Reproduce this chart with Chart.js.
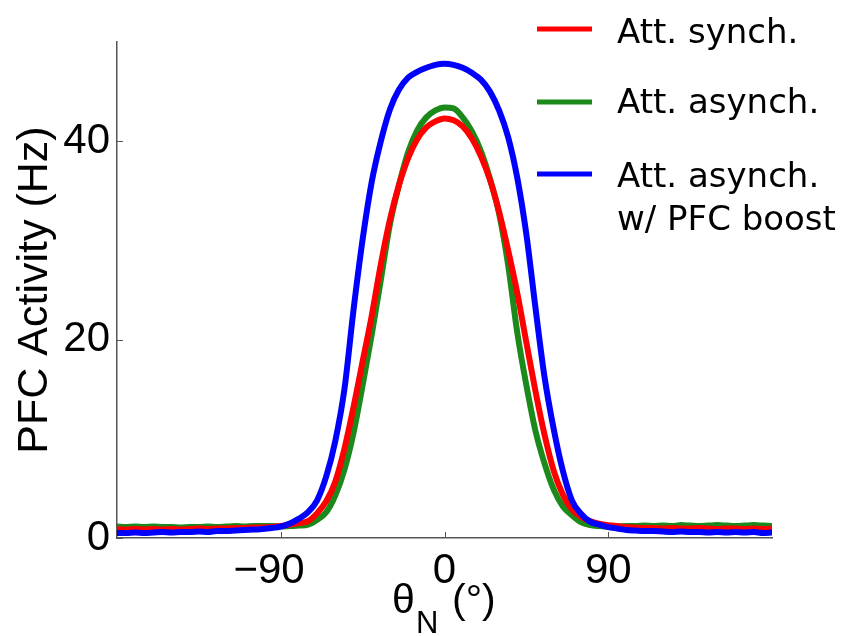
<!DOCTYPE html>
<html>
<head>
<meta charset="utf-8">
<script src="https://cdn.jsdelivr.net/npm/chart.js@4/dist/chart.umd.min.js"></script>
<style>
  html, body { margin: 0; padding: 0; background: #ffffff; }
  #wrap { width: 858px; height: 636px; position: relative; }
</style>
</head>
<body>
<div id="wrap"><canvas id="c" width="858" height="636"></canvas></div>
<script>
// Preferred direction of the neuron, degrees
const angles = [
  -180, -175, -170, -165, -160, -155, -150, -145, -140, -135, -130, -125, -120,
  -115, -110, -105, -100, -95, -90, -85, -80, -75, -70, -65, -60, -55, -50, -45,
  -40, -35, -30, -25, -20, -15, -10, -5, 0, 5, 10, 15, 20, 25, 30, 35, 40, 45,
  50, 55, 60, 65, 70, 75, 80, 85, 90, 95, 100, 105, 110, 115, 120, 125, 130,
  135, 140, 145, 150, 155, 160, 165, 170, 175, 180
];

// PFC firing rate (Hz) for each condition
const attSynch = [
  0.9, 0.85, 0.9, 0.85, 0.9, 0.85, 0.9, 0.85, 0.9, 0.95, 0.9, 0.95, 0.95,
  1.0, 1.0, 1.05, 1.05, 1.1, 1.2, 1.35, 1.5, 1.7, 2.5, 3.7, 5.7, 9.0, 13.2, 17.8,
  22.4, 27.6, 32.1, 35.6, 38.3, 40.2, 41.4, 42.0, 42.3, 42.1, 41.5, 40.3, 38.5, 36.1, 32.9, 29.0, 24.7, 19.7,
  14.8, 10.4, 6.8, 4.4, 2.9, 2.15, 1.7, 1.45, 1.3, 1.2, 1.1, 1.05, 1.0, 1.0, 0.95, 1.0, 0.95,
  0.95, 1.0, 0.95, 0.9, 0.95, 0.95, 0.9, 0.95, 0.9, 0.95
];

const attAsynch = [
  1.15, 1.1, 1.15, 1.1, 1.15, 1.1, 1.1, 1.05, 1.1, 1.1, 1.15, 1.1, 1.15,
  1.2, 1.15, 1.2, 1.2, 1.2, 1.15, 1.2, 1.25, 1.35, 1.85, 2.6, 4.3, 6.9, 10.6, 15.4,
  20.5, 26.0, 31.6, 35.6, 38.9, 41.1, 42.4, 43.1, 43.4, 43.3, 42.4, 41.0, 39.0, 36.2, 32.7, 27.5, 20.7, 15.4,
  10.8, 7.5, 4.9, 3.2, 2.3, 1.6, 1.3, 1.2, 1.15, 1.15, 1.2, 1.2, 1.25, 1.2, 1.25, 1.2,
  1.3, 1.25, 1.2, 1.25, 1.3, 1.25, 1.2, 1.25, 1.3, 1.25, 1.2
];

const attAsynchBoost = [
  0.5, 0.5, 0.55, 0.5, 0.55, 0.6, 0.55, 0.6, 0.6, 0.65, 0.6, 0.7, 0.7,
  0.75, 0.8, 0.85, 0.9, 1.0, 1.15, 1.45, 1.95, 2.6, 3.8, 6.2, 9.8, 15.0, 23.0, 30.1,
  35.9, 40.0, 43.2, 45.2, 46.4, 47.0, 47.4, 47.7, 47.8, 47.7, 47.4, 46.9, 46.2, 45.0, 43.1, 40.4, 36.3, 30.6,
  23.2, 16.2, 11.0, 6.8, 3.8, 2.45, 1.65, 1.35, 1.1, 0.95, 0.8, 0.75, 0.7, 0.7, 0.65, 0.6,
  0.65, 0.6, 0.6, 0.55, 0.6, 0.55, 0.6, 0.55, 0.6, 0.5, 0.55
];

const seriesLabels = [['Att. synch.'], ['Att. asynch.'], ['Att. asynch.', 'w/ PFC boost']];
const seriesColors = ['#ff0000', '#1b8a1b', '#0000ff'];

const xTicks = [-90, 0, 90];
const yTicks = [0, 20, 40];

const axisColor = '#555555';
const tickFont = 'Liberation Sans, Arial, sans-serif';
const legendFont = 'DejaVu Sans, Verdana, sans-serif';

const toPoints = vals => angles.map((a, i) => ({ x: a, y: vals[i] }));

// Inward tick marks (drawn on top of the axis lines)
const innerTicks = {
  id: 'innerTicks',
  afterDraw(chart) {
    const { ctx, chartArea: a, scales: { x, y } } = chart;
    ctx.save();
    ctx.strokeStyle = axisColor;
    ctx.lineWidth = 1;
    xTicks.forEach(v => {
      const px = Math.round(x.getPixelForValue(v)) + 0.5;
      ctx.beginPath();
      ctx.moveTo(px, a.bottom);
      ctx.lineTo(px, a.bottom - 6);
      ctx.stroke();
    });
    yTicks.forEach(v => {
      const py = Math.round(y.getPixelForValue(v)) + 0.5;
      ctx.beginPath();
      ctx.moveTo(a.left, py);
      ctx.lineTo(a.left + 6, py);
      ctx.stroke();
    });
    ctx.restore();
  }
};

// Axis titles: rotated y title and theta with subscript N on x
const axisTitles = {
  id: 'axisTitles',
  afterDraw(chart) {
    const { ctx, chartArea: a } = chart;
    ctx.save();
    ctx.fillStyle = '#000';
    // y title
    ctx.save();
    ctx.translate(47, (a.top + a.bottom) / 2);
    ctx.rotate(-Math.PI / 2);
    ctx.font = '43px ' + tickFont;
    ctx.textAlign = 'center';
    ctx.textBaseline = 'alphabetic';
    ctx.fillText('PFC Activity (Hz)', 0, 0);
    ctx.restore();
    // x title
    ctx.textAlign = 'left';
    ctx.textBaseline = 'alphabetic';
    ctx.font = '41px ' + tickFont;
    ctx.fillText('θ', 392, 613);
    ctx.font = '31px ' + tickFont;
    ctx.fillText('N', 416, 633);
    ctx.font = '41px ' + tickFont;
    ctx.fillText('(°)', 452, 613);
    ctx.restore();
  }
};

// Legend in the upper right, outside the data lines
const sideLegend = {
  id: 'sideLegend',
  afterDraw(chart) {
    const { ctx } = chart;
    const lineY = [29, 102, 174];
    const baseY = [[43], [113], [187, 230]];
    ctx.save();
    ctx.font = '34px ' + legendFont;
    ctx.fillStyle = '#000';
    ctx.textAlign = 'left';
    ctx.textBaseline = 'alphabetic';
    chart.data.datasets.forEach((ds, i) => {
      ctx.strokeStyle = ds.borderColor;
      ctx.lineWidth = 5;
      ctx.lineCap = 'butt';
      ctx.beginPath();
      ctx.moveTo(537, lineY[i]);
      ctx.lineTo(592, lineY[i]);
      ctx.stroke();
      seriesLabels[i].forEach((t, k) => ctx.fillText(t, 617, baseY[i][k]));
    });
    ctx.restore();
  }
};

new Chart(document.getElementById('c'), {
  type: 'line',
  data: {
    datasets: [
      { label: seriesLabels[0].join(' '), data: toPoints(attSynch), borderColor: seriesColors[0], order: 1 },
      { label: seriesLabels[1].join(' '), data: toPoints(attAsynch), borderColor: seriesColors[1], order: 2 },
      { label: seriesLabels[2].join(' '), data: toPoints(attAsynchBoost), borderColor: seriesColors[2], order: 0 }
    ]
  },
  options: {
    responsive: false,
    animation: false,
    events: [],
    layout: { padding: { top: 42, right: 86, left: 0, bottom: 0 } },
    elements: {
      line: { borderWidth: 6, tension: 0, cubicInterpolationMode: 'monotone', borderCapStyle: 'round', borderJoinStyle: 'round' },
      point: { radius: 0 }
    },
    plugins: {
      legend: { display: false },
      tooltip: { enabled: false },
      title: { display: false }
    },
    scales: {
      x: {
        type: 'linear',
        min: -180,
        max: 180,
        afterFit: s => { s.height = 98; },
        afterBuildTicks: s => { s.ticks = xTicks.map(v => ({ value: v })); },
        grid: { display: false, drawTicks: false },
        border: { display: true, color: axisColor, width: 1.5 },
        ticks: {
          font: { family: tickFont, size: 42 },
          color: '#000',
          padding: 8,
          maxRotation: 0,
          autoSkip: false,
          callback: v => v < 0 ? '\u2212' + Math.abs(v) + '  ' : String(v)
        }
      },
      y: {
        type: 'linear',
        min: 0,
        max: 50,
        afterFit: s => { s.width = 117; },
        afterBuildTicks: s => { s.ticks = yTicks.map(v => ({ value: v })); },
        grid: { display: false, drawTicks: false },
        border: { display: true, color: axisColor, width: 1.5 },
        ticks: {
          font: { family: tickFont, size: 42 },
          color: '#000',
          padding: 7,
          autoSkip: false,
          callback: v => String(v)
        }
      }
    }
  },
  plugins: [innerTicks, axisTitles, sideLegend]
});
</script>
</body>
</html>
